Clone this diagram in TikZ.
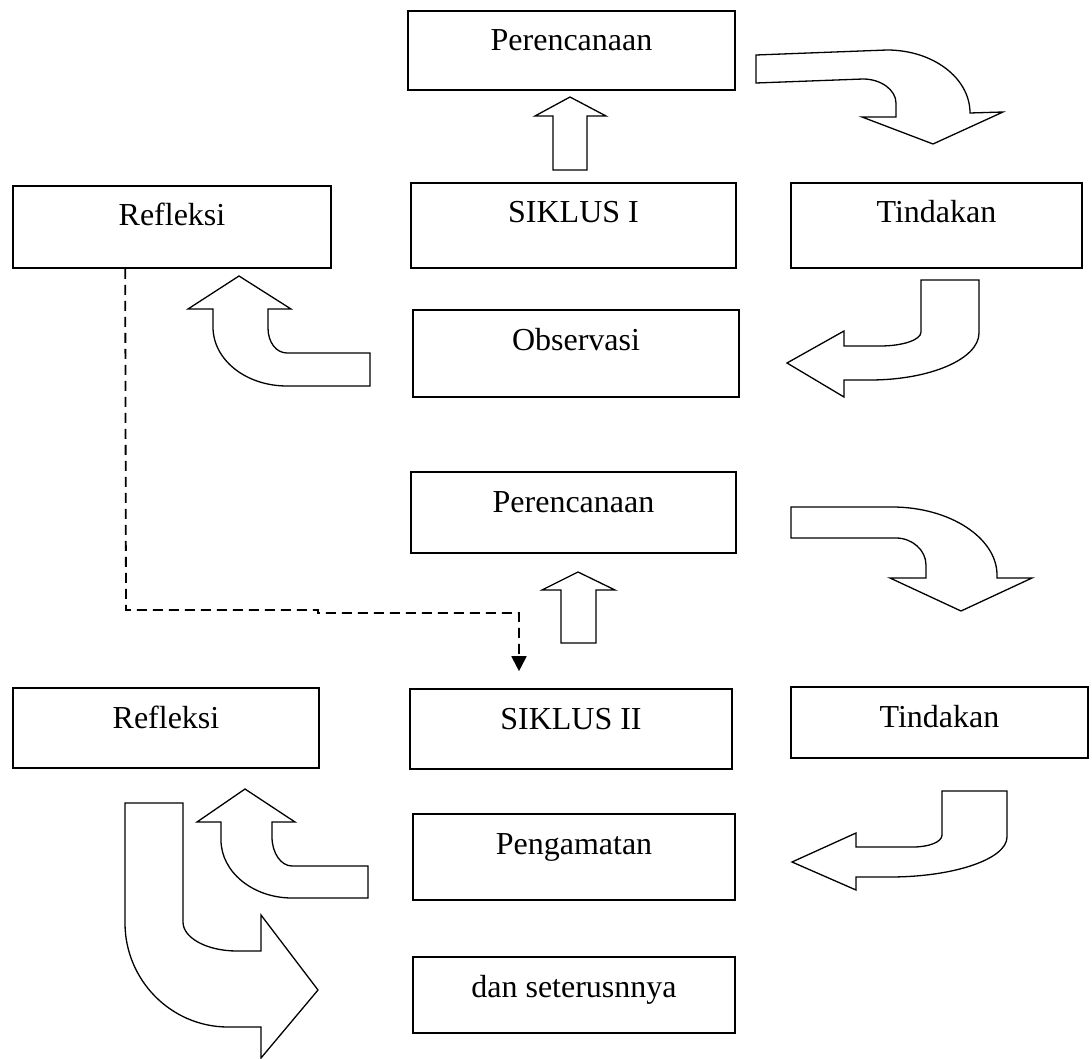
\documentclass[tikz,border=0pt]{standalone}
\usepackage{fontspec}
\setmainfont{Liberation Serif}
\usetikzlibrary{arrows.meta}
\begin{document}
\begin{tikzpicture}[x=1pt,y=-1pt,
  box/.style={draw, line width=1.6pt, inner sep=0pt, anchor=base, text height=40pt, font=\fontsize{32}{38}\selectfont},
  barrow/.style={draw, fill=white, line width=1.3pt, line join=miter},
  dashline/.style={line width=1.8pt, dash pattern=on 10pt off 6pt, -{Triangle[width=15pt,length=15pt]}}]
\useasboundingbox (0,0) rectangle (1092,1059);

% boxes
\node[box, minimum width=327pt, text depth=39pt] (p1) at (571.5,51) {Perencanaan};
\node[box, minimum width=318pt, text depth=42pt] (r1) at (172,226) {Refleksi};
\node[box, minimum width=325pt, text depth=45pt] (s1) at (573.5,223) {SIKLUS I};
\node[box, minimum width=291pt, text depth=45pt] (t1) at (936.5,223) {Tindakan};
\node[box, minimum width=326pt, text depth=47pt] (o1) at (576,350) {Observasi};
\node[box, minimum width=325pt, text depth=41pt] (p2) at (573.5,512) {Perencanaan};
\node[box, minimum width=306pt, text depth=40pt] (r2) at (166,728) {Refleksi};
\node[box, minimum width=322pt, text depth=40pt] (s2) at (571,729) {SIKLUS II};
\node[box, minimum width=297pt, text depth=31pt] (t2) at (939.5,727) {Tindakan};
\node[box, minimum width=322pt, text depth=46pt] (g2) at (574,854) {Pengamatan};
\node[box, minimum width=322pt, text depth=36pt] (d2) at (574,997) {dan seterusnnya};

% dashed connector Refleksi I -> SIKLUS II
\coordinate (ds) at ([xshift=113pt]r1.south west);
\coordinate (de) at ([xshift=-52pt,yshift=17pt]s2.north);
\draw[dashline] (ds) -- (126,610) -- (318,610) -- (318,613) -- (519,613) -- (de);

% straight block arrows
\draw[barrow] (570,97) -- (606,116) -- (587,116) -- (587,170) -- (553,170) -- (553,116) -- (535,116) -- cycle;
\draw[barrow] (578,572) -- (615,590) -- (596,590) -- (596,643) -- (561,643) -- (561,590) -- (542,590) -- cycle;

% cycle I bent arrows
\draw[barrow] (756,55) -- (887,50) .. controls (933,50) and (970,78) .. (970,113) -- (1003,112) -- (933,144) -- (862,117) -- (896,117) -- (896,103) .. controls (896,90) and (881,79) .. (863,79) -- (756,83) -- cycle;
\draw[barrow] (921,280) -- (979,280) -- (979,333) .. controls (979,359) and (930,380) .. (870,380) -- (844,380) -- (844,397) -- (787,363) -- (844,331) -- (844,346) -- (880,346) .. controls (902.5,346) and (921,340) .. (921,332) -- cycle;
\draw[barrow] (239,276) -- (291,309) -- (268,309) -- (268,328) .. controls (268,342) and (276,353) .. (287,353) -- (370,353) -- (370,386) -- (287,386) .. controls (246,386) and (213,360) .. (213,327) -- (213,309) -- (188,309) -- cycle;

% cycle II bent arrows
\draw[barrow] (791,507) -- (892,507) .. controls (950,507) and (997,538) .. (997,575) -- (997,578) -- (1032,578) -- (961,611) -- (890,578) -- (926,578) -- (926,565) .. controls (926,550) and (912,538) .. (896,538) -- (791,538) -- cycle;
\draw[barrow] (942,791) -- (1007,791) -- (1007,837) .. controls (1007,859) and (954,877) .. (890,877) -- (856,877) -- (856,890) -- (792,862) -- (856,833) -- (856,847) -- (913,847) .. controls (929,847) and (942,842) .. (942,835) -- cycle;
\draw[barrow] (245,789) -- (295,822) -- (272,822) -- (272,837) .. controls (272,853) and (281,866) .. (292,866) -- (368,866) -- (368,898) -- (292,898) .. controls (253,898) and (221,872) .. (221,840) -- (221,822) -- (197,822) -- cycle;
\draw[barrow] (125,803) -- (183,803) -- (183,922) .. controls (183,938) and (207,951) .. (237,951) -- (261,951) -- (261,915) -- (318,990) -- (261,1058) -- (261,1027) -- (228,1027) .. controls (171,1027) and (125,980) .. (125,923) -- cycle;
\end{tikzpicture}
\end{document}
